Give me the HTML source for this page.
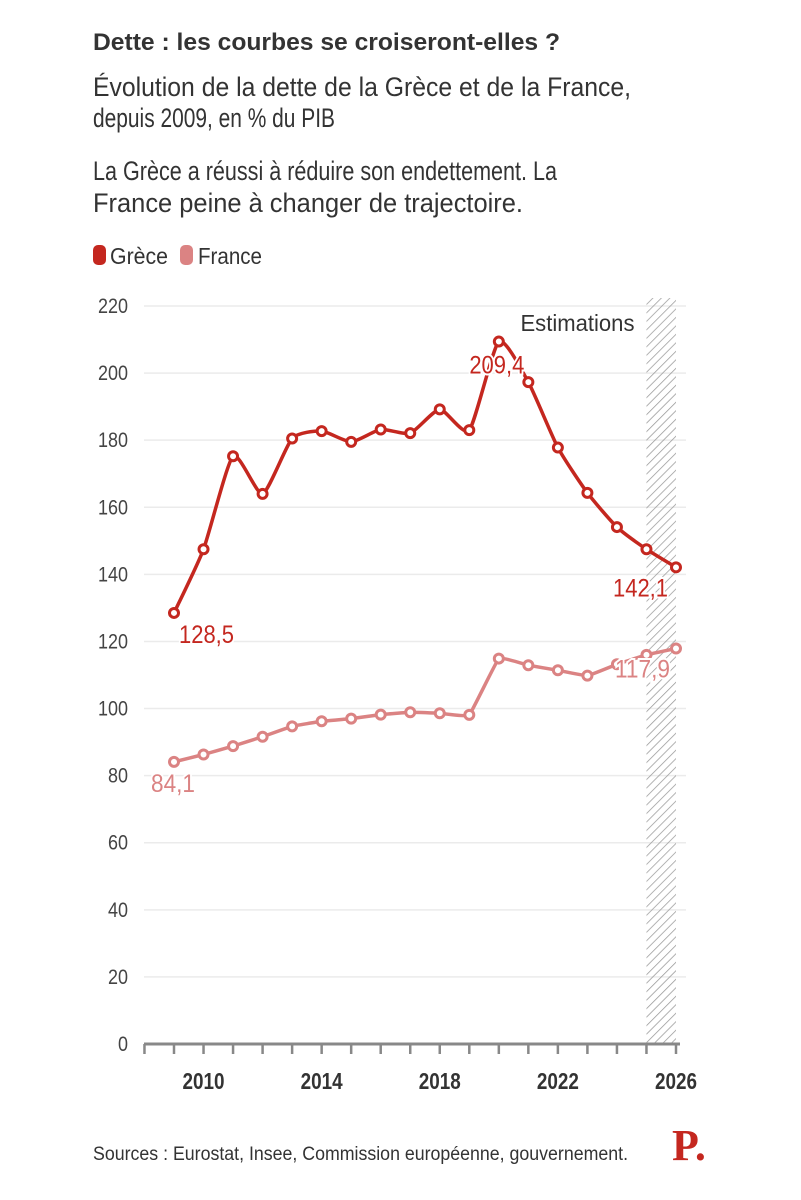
<!DOCTYPE html>
<html><head><meta charset="utf-8"><style>
html,body{margin:0;padding:0;background:#fff;}
svg{display:block;font-family:"Liberation Sans",sans-serif;}
</style></head><body>
<svg id="chart" width="801" height="1200" viewBox="0 0 801 1200" xmlns="http://www.w3.org/2000/svg">
<defs>
<pattern id="hatch" patternUnits="userSpaceOnUse" width="6" height="6" patternTransform="rotate(45)">
<line x1="0" y1="0" x2="0" y2="6" stroke="#999" stroke-width="1.5"/>
</pattern>
</defs>
<text x="93" y="50" font-size="24" font-weight="bold" fill="#333" textLength="467" lengthAdjust="spacingAndGlyphs">Dette : les courbes se croiseront-elles ?</text>
<text x="93" y="96" font-size="27" fill="#333" textLength="538" lengthAdjust="spacingAndGlyphs">Évolution de la dette de la Grèce et de la France,</text>
<text x="93" y="127" font-size="27" fill="#333" textLength="242" lengthAdjust="spacingAndGlyphs">depuis 2009, en % du PIB</text>
<text x="93" y="180" font-size="27" fill="#333" textLength="464" lengthAdjust="spacingAndGlyphs">La Grèce a réussi à réduire son endettement. La</text>
<text x="93" y="212" font-size="27" fill="#333" textLength="430" lengthAdjust="spacingAndGlyphs">France peine à changer de trajectoire.</text>
<g>
<g>
<rect x="93" y="245" width="13" height="20" rx="5" fill="#c4271f"/>
<text x="110" y="264" font-size="23" fill="#333" textLength="58" lengthAdjust="spacingAndGlyphs">Grèce</text>
</g>
<g>
<rect x="180" y="245" width="13" height="20" rx="5" fill="#db8383"/>
<text x="198" y="264" font-size="23" fill="#333" textLength="64" lengthAdjust="spacingAndGlyphs">France</text>
</g>
</g>
<g id="plot"></g>
<text x="93" y="1160" font-size="19" fill="#333" textLength="535" lengthAdjust="spacingAndGlyphs">Sources : Eurostat, Insee, Commission européenne, gouvernement.</text>
<text x="672" y="1160" font-size="44" font-weight="bold" fill="#c4271f" font-family="Liberation Serif, serif">P.</text>
</svg>
<script>
const years = [2009,2010,2011,2012,2013,2014,2015,2016,2017,2018,2019,2020,2021,2022,2023,2024,2025,2026];
const greece = [128.5,147.5,175.2,164.0,180.5,182.7,179.5,183.2,182.1,189.2,183.0,209.4,197.3,177.8,164.3,154.1,147.5,142.1];
const france = [84.1,86.3,88.8,91.6,94.7,96.2,97.0,98.2,98.9,98.6,98.1,114.9,112.9,111.4,109.8,113.2,116.0,117.9];
const yTicks = [0,20,40,60,80,100,120,140,160,180,200,220];
const xTickLabels = [2010,2014,2018,2022,2026];
const estimateStart = 2025;

const NS = "http://www.w3.org/2000/svg";
const plot = document.getElementById('plot');
const X = y => 174 + (y - 2009) * (676 - 174) / 17;
const Y = v => 1044 - v * (1044 - 306) / 220;
function mk(tag, attrs, parent){const e=document.createElementNS(NS,tag);for(const k in attrs)e.setAttribute(k,attrs[k]);(parent||plot).appendChild(e);return e;}

yTicks.forEach(t=>{
  if(t>0){const g=mk('line',{x1:144,x2:686,y1:Y(t),y2:Y(t),stroke:'#ebebeb','stroke-width':1.5});
  
  }
  const l=mk('text',{x:128,y:Y(t)+7,'text-anchor':'end','font-size':21,fill:'#444',textLength:String(t).length*10,lengthAdjust:'spacingAndGlyphs'});
  l.textContent=t;
  
  
});
const band=mk('rect',{x:X(estimateStart),y:298,width:X(2026)-X(estimateStart),height:Y(0)-298,fill:'url(#hatch)'});


const est=mk('text',{x:X(estimateStart)-12,y:331,'text-anchor':'end','font-size':23,fill:'#333',textLength:114,lengthAdjust:'spacingAndGlyphs'});
est.textContent='Estimations';


const ax=mk('line',{x1:144,x2:680,y1:Y(0),y2:Y(0),stroke:'#888','stroke-width':3});


for(let yr=2008;yr<=2026;yr++){
  const tk=mk('line',{x1:X(yr),x2:X(yr),y1:Y(0),y2:Y(0)+10,stroke:'#888','stroke-width':2.5});
  
  
}
xTickLabels.forEach(yr=>{
  const t=mk('text',{x:X(yr),y:1089,'text-anchor':'middle','font-size':23,'font-weight':'bold',fill:'#333',textLength:42,lengthAdjust:'spacingAndGlyphs'});
  t.textContent=yr;
  
  
});
function smooth(pts,t){
  let d=`M${pts[0][0]},${pts[0][1]}`;
  for(let i=0;i<pts.length-1;i++){
    const p0=pts[Math.max(0,i-1)],p1=pts[i],p2=pts[i+1],p3=pts[Math.min(pts.length-1,i+2)];
    d+=` C${p1[0]+(p2[0]-p0[0])*t},${p1[1]+(p2[1]-p0[1])*t} ${p2[0]-(p3[0]-p1[0])*t},${p2[1]-(p3[1]-p1[1])*t} ${p2[0]},${p2[1]}`;
  }
  return d;
}
function series(vals,color,name,t){
  const pts=vals.map((v,i)=>[X(years[i]),Y(v)]);
  const p=mk('path',{d:smooth(pts,t),fill:'none',stroke:color,'stroke-width':3.5,'stroke-linejoin':'round'});
  
  
  pts.forEach(pt=>{
    const c=mk('circle',{cx:pt[0],cy:pt[1],r:4.5,fill:'#fff',stroke:color,'stroke-width':3});
    
    
  });
}
const fmt=v=>v.toFixed(1).replace('.',',');
function label(txt,x,y,color,anchor,name){
  const t=mk('text',{x:x,y:y,'font-size':25,fill:color,'text-anchor':anchor,stroke:'#fff','stroke-width':4,'paint-order':'stroke',textLength:txt.length*11,lengthAdjust:'spacingAndGlyphs'});
  t.textContent=txt;
  
  
}
series(france,'#db8383','france',0.04);
series(greece,'#c4271f','greece',0.1);
const last=years.length-1;
const gMax=greece.indexOf(Math.max(...greece));
label(fmt(greece[0]),X(years[0])+5,Y(greece[0])+30,'#c4271f','start','greece-start-value');
label(fmt(greece[gMax]),X(years[gMax])-2,Y(greece[gMax])+32,'#c4271f','middle','greece-peak-value');
label(fmt(greece[last]),X(years[last])-8,Y(greece[last])+29,'#c4271f','end','greece-end-value');
label(fmt(france[0]),X(years[0])-1,Y(france[0])+30,'#db8383','middle','france-start-value');
label(fmt(france[last]),X(years[last])-6,Y(france[last])+29,'#db8383','end','france-end-value');
</script>
</body></html>
